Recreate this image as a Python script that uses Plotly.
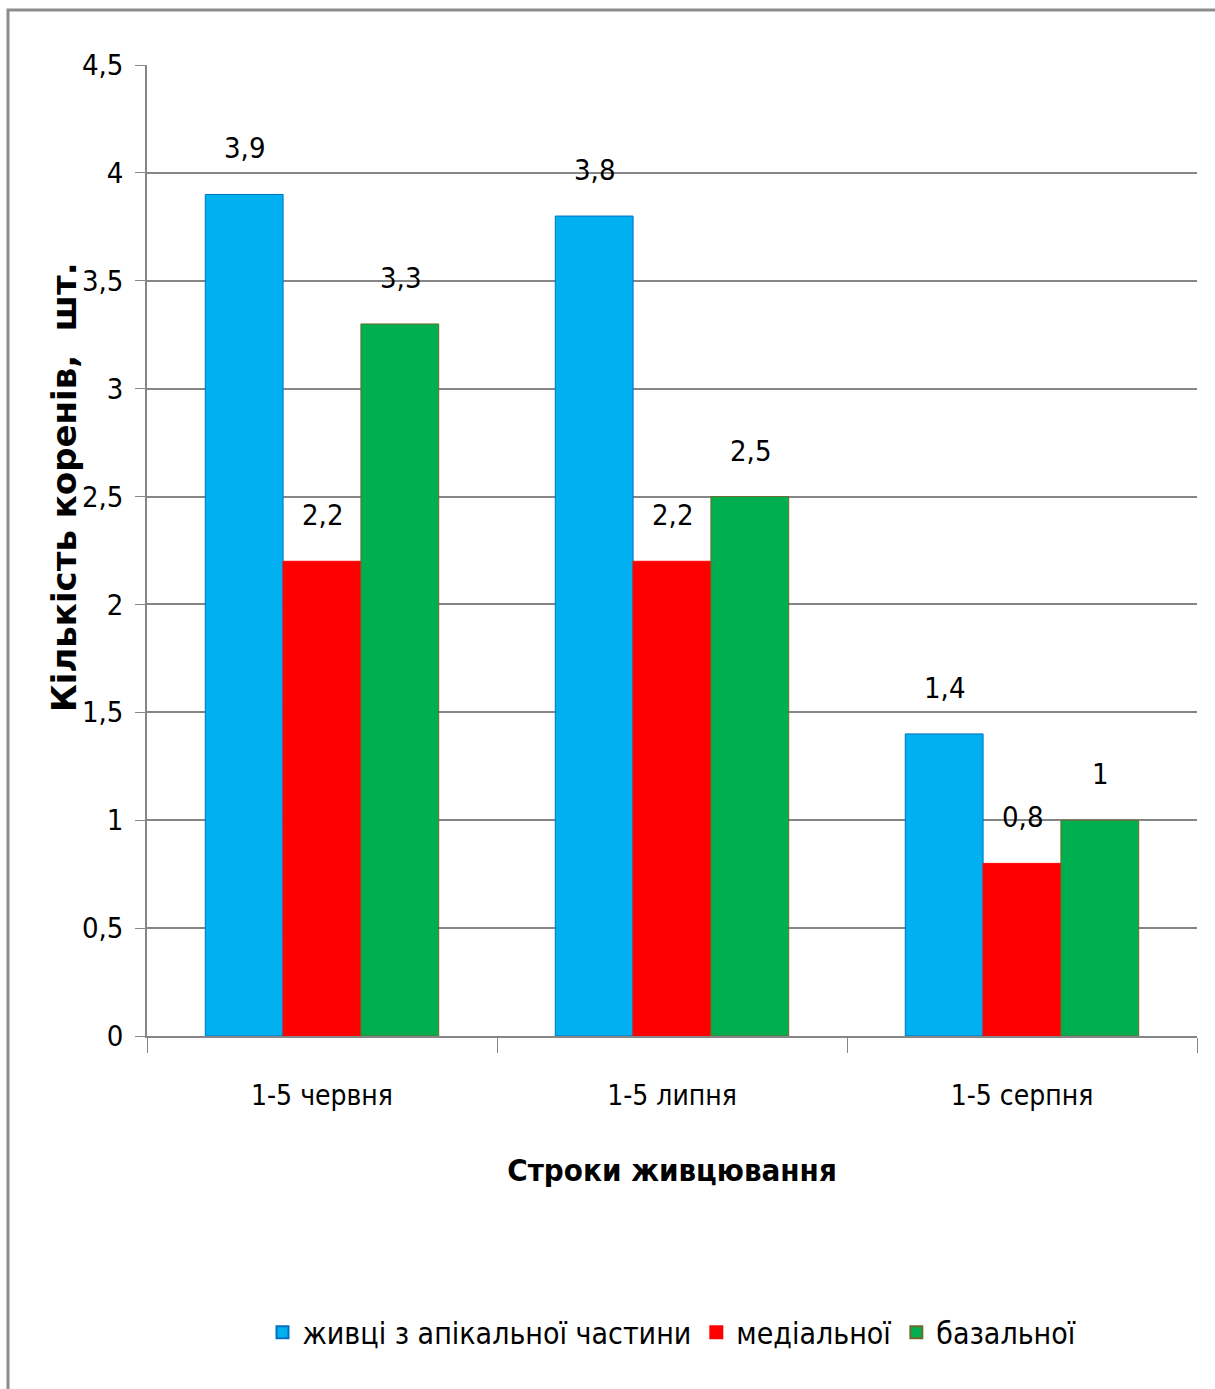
import plotly.graph_objects as go

# Rooting results by cutting date and cutting part
categories = ["1-5 червня", "1-5 липня", "1-5 серпня"]
series_names = ["живці з апікальної частини", "медіальної", "базальної"]
apical = [3.9, 3.8, 1.4]
medial = [2.2, 2.2, 0.8]
basal = [3.3, 2.5, 1.0]
y_ticks = [0, 0.5, 1, 1.5, 2, 2.5, 3, 3.5, 4, 4.5]
y_tick_text = ["0", "0,5", "1", "1,5", "2", "2,5", "3", "3,5", "4", "4,5"]

colors = ["#00B0F0", "#FF0000", "#00B050"]
edge_colors = ["#0070C0", "#FF0000", "#6E6B2E"]
series_values = [apical, medial, basal]

NARROW = "DejaVu Sans Condensed, Liberation Sans Narrow, sans-serif"

fig = go.Figure()
for name, vals, col, edge in zip(series_names, series_values, colors, edge_colors):
    fig.add_trace(go.Bar(
        x=categories, y=vals, name=name,
        marker=dict(color=col, line=dict(color=edge, width=1)),
    ))

# Value labels above each bar
offsets = [-1, 0, 1]
for vals, off in zip(series_values, offsets):
    for i, v in enumerate(vals):
        fig.add_annotation(
            x=i, y=v, xref="x", yref="y",
            text=f"{v:g}".replace(".", ","),
            showarrow=False, xshift=off * 78, yshift=46,
            font=dict(family=NARROW, size=29, color="#000000"),
        )

# Rotated y-axis title
fig.add_annotation(
    x=(64 - 147) / 1050, y=(1036 - 487) / 971, xref="paper", yref="paper",
    xanchor="center", yanchor="middle",
    text="<b>Кількість коренів,  шт.</b>", textangle=-90, showarrow=False,
    font=dict(family="DejaVu Sans", size=34, color="#000000"),
)

# Outer chart frame
fig.add_shape(
    type="rect", xref="paper", yref="paper",
    x0=(8 - 147) / 1050, x1=(1230 - 147) / 1050,
    y0=(1036 - 1400) / 971, y1=(1036 - 10) / 971,
    line=dict(color="#8C8C8C", width=3), fillcolor="rgba(0,0,0,0)", layer="below",
)

fig.update_layout(
    width=1215, height=1389,
    margin=dict(l=147, r=18, t=65, b=353),
    paper_bgcolor="white", plot_bgcolor="white",
    barmode="group", bargap=0.333, bargroupgap=0,
    showlegend=True,
    legend=dict(
        orientation="h", x=0.5, xanchor="center", y=-0.305, yanchor="middle",
        font=dict(family=NARROW, size=30, color="#000000"),
        itemsizing="constant", traceorder="normal",
    ),
    xaxis=dict(
        tickfont=dict(family=NARROW, size=28, color="#000000"),
        showline=True, linecolor="#868686", linewidth=1.5,
        ticks="outside", tickson="boundaries", ticklen=15, tickcolor="#868686",
        ticklabelstandoff=34,
        title=dict(text="<b>Строки живцювання</b>", standoff=48,
                   font=dict(family=NARROW, size=31, color="#000000")),
    ),
    yaxis=dict(
        range=[0, 4.5], tickvals=y_ticks, ticktext=y_tick_text,
        tickfont=dict(family=NARROW, size=29, color="#000000"),
        showgrid=True, gridcolor="#868686", gridwidth=1.5,
        showline=True, linecolor="#868686", linewidth=1.5,
        ticks="outside", ticklen=10, tickcolor="#868686",
        ticklabelstandoff=6,
        zeroline=False,
    ),
)

fig.write_html("out.html")
